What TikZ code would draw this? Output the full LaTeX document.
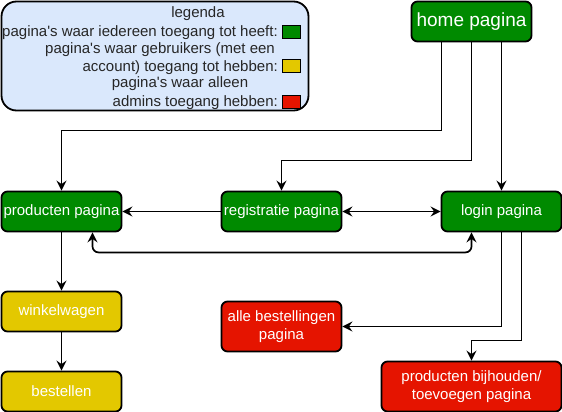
\documentclass[tikz,border=0pt]{standalone}
\usepackage{fontspec}
\setmainfont{Liberation Sans}
\usepackage{xcolor}
\usepackage{tikz}
\usetikzlibrary{arrows.meta}

\definecolor{pagegreen}{HTML}{008A00}
\definecolor{pageyellow}{HTML}{E3C800}
\definecolor{pagered}{HTML}{E51400}
\definecolor{legendblue}{HTML}{DAE8FC}

\begin{document}
\begin{tikzpicture}[x=1pt,y=-1pt]
        % Define styles
        \tikzset{
            page/.style={rectangle, draw=black, line width=1.8pt, rounded corners=6pt, text=white, align=center,
                font=\fontsize{15}{18}\selectfont, minimum width=120pt, minimum height=40pt, inner sep=1pt},
            open/.style={page, fill=pagegreen},
            member/.style={page, fill=pageyellow},
            admin/.style={page, fill=pagered, minimum height=50pt},
            legendtext/.style={font=\fontsize{15}{18}\selectfont, text=black!85, inner sep=0pt},
            swatch/.style={rectangle, draw=black, line width=1pt, minimum width=18pt, minimum height=13pt, inner sep=0pt},
            arrow/.style={-{Stealth[length=10pt,width=10pt,inset=3.5pt]}, line width=1.7pt},
            twoway/.style={{Stealth[length=10pt,width=10pt,inset=3.5pt]}-{Stealth[length=10pt,width=10pt,inset=3.5pt]}, line width=1.7pt}
        }
        \useasboundingbox (0,0) rectangle (562,412);

        % Legend
        \node[draw=black, line width=1.8pt, fill=legendblue, rounded corners=15pt, minimum width=307pt, minimum height=109pt] (legend_box) at (155,56) {};
        \node[legendtext, anchor=base] (legend_title) at (198,18) {legenda};
        \node[legendtext, anchor=base east] (legend_line_1) at (278,37) {pagina\textquotesingle s waar iedereen toegang tot heeft:};
        \node[legendtext, anchor=base] (legend_line_2) at (160,54) {pagina\textquotesingle s waar gebruikers (met een};
        \node[legendtext, anchor=base east] (legend_line_3) at (278,71) {account) toegang tot hebben:};
        \node[legendtext, anchor=base] (legend_line_4) at (180,88) {pagina\textquotesingle s waar alleen};
        \node[legendtext, anchor=base east] (legend_line_5) at (278,106) {admins toegang hebben:};
        \node[swatch, fill=pagegreen] (swatch_open) at (291,32) {};
        \node[swatch, fill=pageyellow] (swatch_member) at (291,66) {};
        \node[swatch, fill=pagered] (swatch_admin) at (291,101.5) {};

        % Nodes
        \node[open, font=\fontsize{19}{22}\selectfont] (home_node) at (471.5,21.5) {home pagina};
        \node[open] (producten_node) at (61.5,211.5) {producten pagina};
        \node[open] (registratie_node) at (281.5,211.5) {registratie pagina};
        \node[open] (login_node) at (501.5,211.5) {login pagina};
        \node[member] (winkelwagen_node) at (61.5,311.5) {winkelwagen};
        \node[member] (bestellen_node) at (61.5,391.5) {bestellen};
        \node[admin] (bestellingen_node) at (281.5,326.5) {alle bestellingen\\pagina};
        \node[admin, minimum width=180pt] (beheer_node) at (471.5,386.5) {producten bijhouden/\\toevoegen pagina};

        % Arrows
        \draw[arrow] ([xshift=-30pt]home_node.south) |- ([yshift=60pt]producten_node.north) -- (producten_node.north);
        \draw[arrow] (home_node.south) |- ([yshift=30pt]registratie_node.north) -- (registratie_node.north);
        \draw[arrow] ([xshift=30pt]home_node.south) -- (login_node.north);
        \draw[arrow] (registratie_node.west) -- (producten_node.east);
        \draw[twoway] (registratie_node.east) -- (login_node.west);
        \draw[twoway, rounded corners=6pt] ([xshift=31pt]producten_node.south) -- ++(0,20) -| ([xshift=-30pt]login_node.south);
        \draw[arrow] (producten_node.south) -- (winkelwagen_node.north);
        \draw[arrow] (winkelwagen_node.south) -- (bestellen_node.north);
        \draw[arrow] (login_node.south) |- (bestellingen_node.east);
        \draw[arrow] ([xshift=20pt]login_node.south) |- ([yshift=20pt]beheer_node.north) -- (beheer_node.north);
    \end{tikzpicture}
\end{document}
